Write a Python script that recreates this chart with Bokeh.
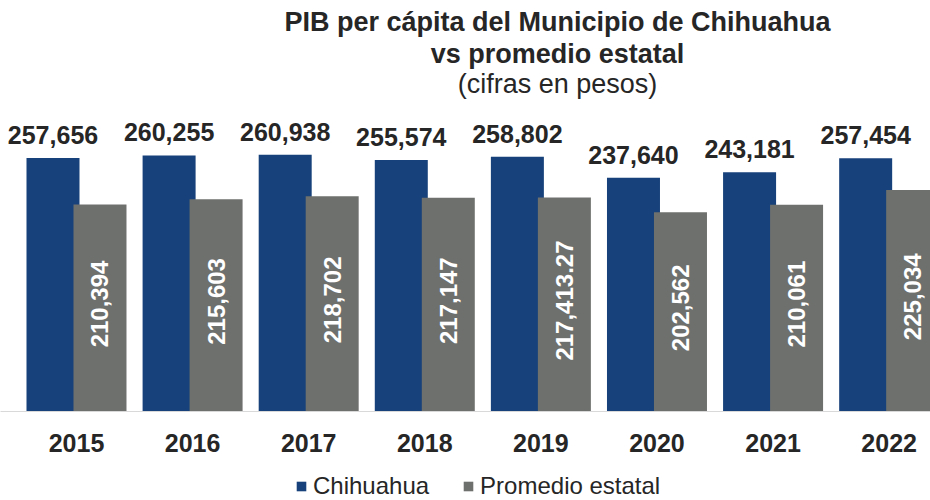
import math
from bokeh.plotting import figure
from bokeh.layouts import column
from bokeh.models import Range1d, FixedTicker, Label, Legend, LegendItem, ColumnDataSource
from bokeh.embed import file_html
from bokeh.resources import INLINE
from bokeh.core.properties import value

years = ["2015", "2016", "2017", "2018", "2019", "2020", "2021", "2022"]
chihuahua = [257656, 260255, 260938, 255574, 258802, 237640, 243181, 257454]
promedio = [210394, 215603, 218702, 217147, 217413.27, 202562, 210061, 225034]
series_names = ["Chihuahua", "Promedio estatal"]

BLUE = "#17417a"
GRAY = "#6e706e"
TXT = "#262626"
FONT = "Liberation Sans"


def fmt(v):
    return f"{v:,.2f}" if v != int(v) else f"{int(v):,}"


idx = list(range(len(years)))
off = 0.2024
bw = 0.4565

src = ColumnDataSource(dict(
    x_c=[i - off for i in idx],
    x_p=[i + off for i in idx],
    chi=chihuahua,
    pro=promedio,
    pro_mid=[v / 2 for v in promedio],
    chi_lbl=[fmt(v) for v in chihuahua],
    pro_lbl=[fmt(v) for v in promedio],
))

p = figure(width=930, height=461,
           x_range=Range1d(-0.6546, 7.356), y_range=Range1d(0, 417700),
           output_backend="svg", toolbar_location=None, y_axis_location=None,
           min_border_left=0, min_border_right=0,
           min_border_top=0, min_border_bottom=50)
p.outline_line_color = None
p.xgrid.visible = False
p.ygrid.visible = False
p.background_fill_color = "white"
p.border_fill_color = "white"

p.vbar(x="x_c", top="chi", width=bw, source=src, fill_color=BLUE, line_color=None)
p.vbar(x="x_p", top="pro", width=bw, source=src, fill_color=GRAY, line_color=None)

p.text(x="x_c", y="chi", text="chi_lbl", source=src, text_align="center",
       text_baseline="alphabetic", y_offset=-23, text_color=TXT,
       text_font=value(FONT), text_font_size=value("25px"), text_font_style="bold")
p.text(x="x_p", y="pro_mid", text="pro_lbl", source=src, angle=math.pi / 2,
       text_align="center", text_baseline="middle", y_offset=-4, text_color="white",
       text_font=value(FONT), text_font_size=value("24px"), text_font_style="bold")

ax = p.xaxis[0]
ax.ticker = FixedTicker(ticks=idx)
ax.major_label_overrides = {i: y for i, y in zip(idx, years)}
ax.major_tick_line_color = None
ax.minor_tick_line_color = None
ax.axis_line_color = "#d9d9d9"
ax.major_label_standoff = 16
ax.major_label_text_font = FONT
ax.major_label_text_font_size = "25px"
ax.major_label_text_font_style = "bold"
ax.major_label_text_color = TXT

titles = [
    ("PIB per cápita del Municipio de Chihuahua", 390, "bold"),
    ("vs promedio estatal", 358, "bold"),
    ("(cifras en pesos)", 328, "normal"),
]
for t, yy, st in titles:
    p.add_layout(Label(x=557, y=yy, x_units="screen", y_units="screen", text=t,
                       text_align="center", text_baseline="alphabetic",
                       text_font=FONT, text_font_size="27px", text_font_style=st,
                       text_color=TXT))

# legend strip below the chart (proxy bars have zero height, so draw nothing)
p2 = figure(width=930, height=39, x_range=Range1d(0, 1), y_range=Range1d(0, 1),
            output_backend="svg", toolbar_location=None,
            x_axis_location=None, y_axis_location=None,
            min_border=0, min_border_left=0, min_border_right=0,
            min_border_top=0, min_border_bottom=0)
p2.outline_line_color = None
p2.xgrid.visible = False
p2.ygrid.visible = False
l1 = p2.vbar(x=[0.5], top=[0], bottom=[0], width=0.1, fill_color=BLUE, line_color=None)
l2 = p2.vbar(x=[0.5], top=[0], bottom=[0], width=0.1, fill_color=GRAY, line_color=None)
legend = Legend(items=[LegendItem(label=series_names[0], renderers=[l1]),
                       LegendItem(label=series_names[1], renderers=[l2])],
                orientation="horizontal", location=(295, 0),
                glyph_width=12, glyph_height=12, label_standoff=6, spacing=33,
                padding=0, margin=0, border_line_color=None, background_fill_alpha=0,
                label_text_font=FONT, label_text_font_size="24px", label_text_color=TXT)
p2.add_layout(legend)

layout = column(p, p2, spacing=0)
open("out.html", "w").write(file_html(layout, INLINE))
